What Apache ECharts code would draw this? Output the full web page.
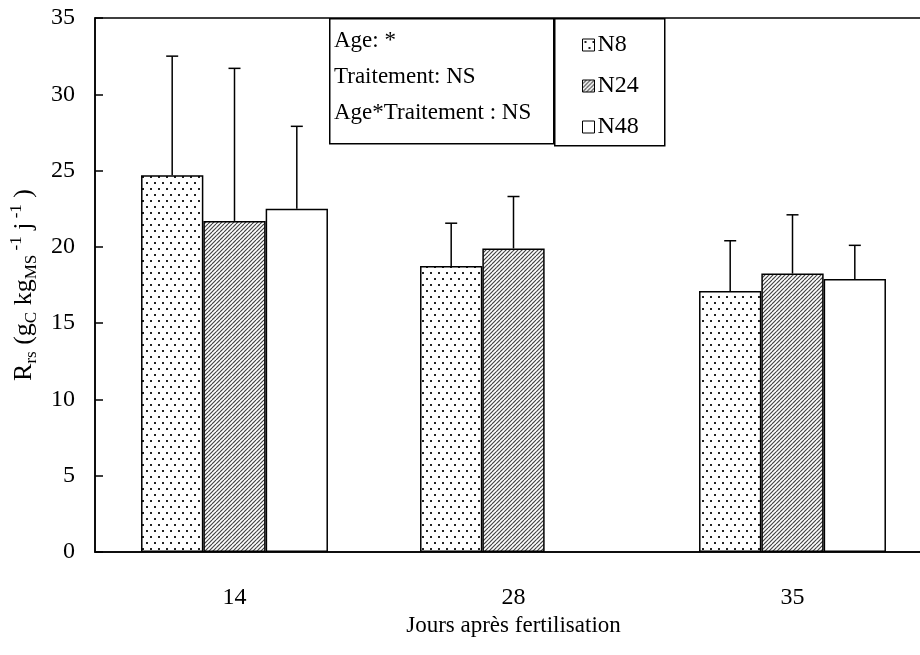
<!DOCTYPE html>
<html>
<head>
<meta charset="utf-8">
<script src="https://cdn.jsdelivr.net/npm/echarts@6/dist/echarts.min.js"></script>
<style>
html,body{margin:0;padding:0;background:#fff;overflow:hidden;}
#chart{width:932px;height:655px;}
</style>
</head>
<body>
<div id="chart"></div>
<script>
// ---- data ----
var categories = ['14', '28', '35'];
var seriesNames = ['N8', 'N24', 'N48'];
var n8 = [24.7, 18.75, 17.1];
var n24 = [21.7, 19.9, 18.25];
var n48 = [22.5, null, 17.9];
var n8Sd = [7.8, 2.8, 3.3];
var n24Sd = [10.0, 3.4, 3.85];
var n48Sd = [5.4, null, 2.2];
var yTicks = {min: 0, max: 35, interval: 5};
var statsLines = ['Age: *', 'Traitement: NS', 'Age*Traitement : NS'];
var xTitle = 'Jours après fertilisation';

// ---- patterns ----
function dotPattern() {
  var c = document.createElement('canvas');
  c.width = 8; c.height = 12;
  var g = c.getContext('2d');
  g.fillStyle = '#fff'; g.fillRect(0, 0, 8, 12);
  g.fillStyle = '#222';
  g.fillRect(2, 2, 2, 2);
  g.fillRect(6, 8, 2, 2);
  return c;
}
function hatchPattern() {
  var c = document.createElement('canvas');
  c.width = 8; c.height = 8;
  var g = c.getContext('2d');
  g.fillStyle = '#fff'; g.fillRect(0, 0, 8, 8);
  g.strokeStyle = '#444'; g.lineWidth = 1.2;
  for (var x = -8; x <= 8; x += 4) {
    g.beginPath(); g.moveTo(x, 8); g.lineTo(x + 8, 0); g.stroke();
  }
  return c;
}
var fills = [
  {image: dotPattern(), repeat: 'repeat'},
  {image: hatchPattern(), repeat: 'repeat'},
  '#ffffff'
];
var means = [n8, n24, n48];
var sds = [n8Sd, n24Sd, n48Sd];

var FONT = '"Liberation Serif", "Times New Roman", serif';
var GAP_RATIO = 0.33;

var errData = [];
for (var s = 0; s < 3; s++) {
  for (var i = 0; i < categories.length; i++) {
    if (means[s][i] != null) errData.push([i, s, means[s][i], means[s][i] + sds[s][i]]);
  }
}

var barSeries = seriesNames.map(function (name, s) {
  return {
    name: name,
    type: 'bar',
    data: means[s].map(function (v) { return v == null ? '-' : v; }),
    barGap: '0%',
    barCategoryGap: (GAP_RATIO * 100) + '%',
    itemStyle: {color: fills[s], borderColor: '#000', borderWidth: 1.5},
    emphasis: {disabled: true},
    z: 2
  };
});

var errSeries = {
  type: 'custom',
  name: 'err',
  data: errData,
  encode: {x: 0, y: [2, 3]},
  z: 3,
  silent: true,
  renderItem: function (params, api) {
    var cat = api.value(0), s = api.value(1), m = api.value(2), hi = api.value(3);
    var base = api.coord([cat, m]);
    var top = api.coord([cat, hi]);
    var band = api.size([1, 0])[0];
    var bw = band * (1 - GAP_RATIO) / 3;
    var x = base[0] + (s - 1) * bw;
    var st = {stroke: '#000', lineWidth: 1.5};
    return {
      type: 'group',
      children: [
        {type: 'line', shape: {x1: x, y1: base[1], x2: x, y2: top[1]}, style: st},
        {type: 'line', shape: {x1: x - 6, y1: top[1], x2: x + 6, y2: top[1]}, style: st}
      ]
    };
  }
};

var chart = echarts.init(document.getElementById('chart'), null, {renderer: 'canvas'});
var option = {
  backgroundColor: '#fff',
  animation: false,
  textStyle: {fontFamily: FONT},
  grid: {left: 95, top: 18, width: 837, height: 534, show: true, borderColor: '#000', borderWidth: 1.5, backgroundColor: 'transparent'},
  legend: {
    data: seriesNames,
    orient: 'vertical',
    left: 577,
    top: 28,
    z: 20,
    itemWidth: 12,
    itemHeight: 12,
    itemGap: 17,
    icon: 'rect',
    selectedMode: false,
    textStyle: {fontFamily: FONT, fontSize: 24, color: '#000', padding: [0, 0, 0, -2]},
    itemStyle: {borderColor: '#000', borderWidth: 1}
  },
  xAxis: {
    type: 'category',
    data: categories,
    name: xTitle,
    nameLocation: 'middle',
    nameGap: 51,
    nameTextStyle: {fontFamily: FONT, fontSize: 23, color: '#000'},
    axisLine: {lineStyle: {color: '#000', width: 1.5}},
    axisTick: {inside: true, length: 8, lineStyle: {color: '#000', width: 1.5}},
    axisLabel: {fontFamily: FONT, fontSize: 24, color: '#000', margin: 34},
    splitLine: {show: false}
  },
  yAxis: {
    type: 'value',
    min: yTicks.min,
    max: yTicks.max,
    interval: yTicks.interval,
    name: '{b|R}{sub|rs}{b| (g}{sub|C}{b| kg}{sub|MS}{sup| -1}{b| j}{sup| -1}{b| )}',
    nameLocation: 'middle',
    nameRotate: 90,
    nameGap: 42,
    nameTextStyle: {
      color: '#000',
      rich: {
        b: {fontFamily: FONT, fontSize: 26, color: '#000', lineHeight: 32},
        sub: {fontFamily: FONT, fontSize: 17, color: '#000', lineHeight: 17, verticalAlign: 'bottom'},
        sup: {fontFamily: FONT, fontSize: 17, color: '#000', lineHeight: 17, verticalAlign: 'top'}
      }
    },
    axisLine: {show: true, lineStyle: {color: '#000', width: 1.5}},
    axisTick: {show: true, inside: true, length: 8, lineStyle: {color: '#000', width: 1.5}},
    axisLabel: {fontFamily: FONT, fontSize: 24, color: '#000', margin: 20},
    splitLine: {show: false}
  },
  graphic: [
    {
      type: 'rect', left: 329, top: 18, z: 10,
      shape: {width: 224, height: 125},
      style: {fill: '#fff', stroke: '#000', lineWidth: 1.5}
    },
    {
      type: 'rect', left: 554, top: 18, z: 10,
      shape: {width: 110, height: 127},
      style: {fill: '#fff', stroke: '#000', lineWidth: 1.5}
    }
  ].concat(statsLines.map(function (t, k) {
    return {
      type: 'text', left: 334, top: 29 + k * 36, z: 11,
      style: {text: t, font: '23px ' + FONT, fill: '#000'}
    };
  })),
  series: barSeries.concat([errSeries])
};
chart.setOption(option);
</script>
</body>
</html>
